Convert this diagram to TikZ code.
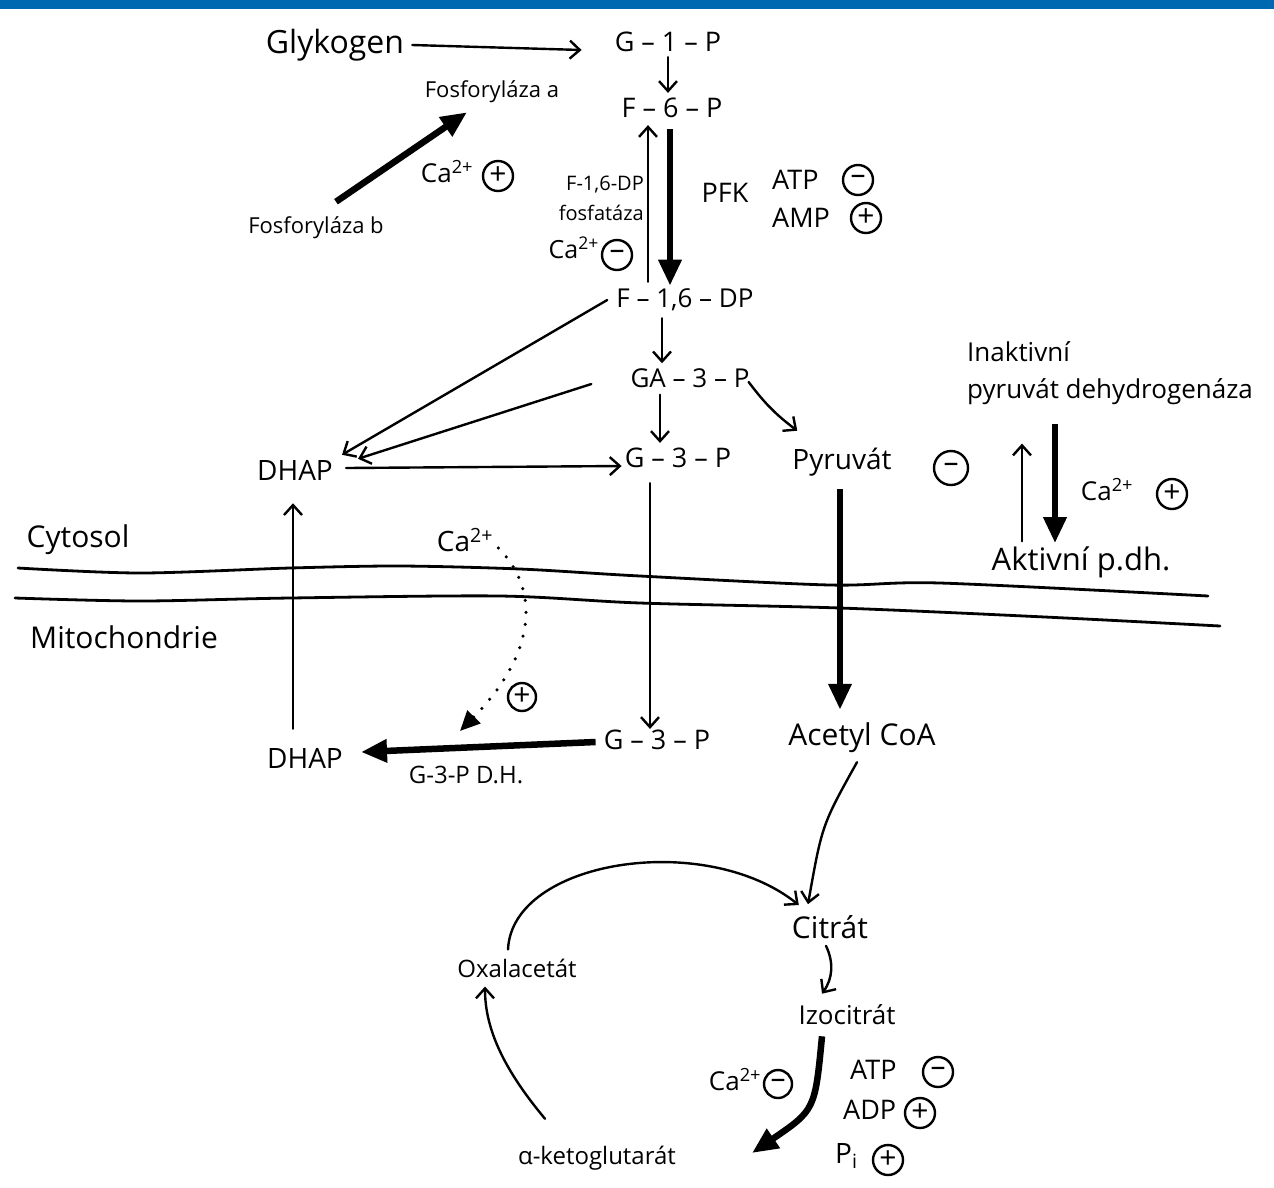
\documentclass[tikz,border=0pt]{standalone}
\usepackage{fontspec}
\setmainfont{Open Sans}
\usetikzlibrary{arrows.meta,calc}
\definecolor{barblue}{HTML}{0068B0}

\begin{document}
\begin{tikzpicture}[x=1pt,y=-1pt,
  lbl/.style={inner sep=1pt, font=\fontsize{#1}{#1}\selectfont},
  lbl/.default=28,
  sgn/.style={circle, draw, line width=2.4pt, minimum size=#1, inner sep=0pt,
              font=\fontsize{30}{30}\selectfont},
  sgn/.default=30,
  thinarr/.style={line width=2.4pt, line cap=round,
                  -{Straight Barb[length=10pt,width=18pt,line width=2.4pt]}},
  thickarr/.style={line width=6.5pt,
                   -{Triangle[length=26pt,width=22pt]}},
  dotarr/.style={line width=3.5pt, line cap=round, dash pattern=on 0pt off 12pt,
                 -{Triangle[length=20pt,width=18pt]}},
  membrane/.style={line width=2.8pt, line cap=round}
]
\useasboundingbox (0,0) rectangle (1274,1187);
\fill[barblue] (0,0) rectangle (1274,9);

% --- glycogen and glycolysis ---
\node[lbl=32] (glyk) at (335,45) {Glykogen};
\node[lbl=27] (g1p) at (668,42) {G – 1 – P};
\node[lbl=27] (f6p) at (672,108) {F – 6 – P};
\node[lbl=22] (fosa) at (492,92) {Fosforyláza a};
\node[lbl=22] (fosb) at (316,228) {Fosforyláza b};
\node[lbl=26] (ca1) at (447,172) {Ca\textsuperscript{2+}};
\node[sgn] (s1) at (498,176) {+};

\node[lbl=20, anchor=east] (fdp1) at (645,185) {F-1,6-DP};
\node[lbl=20, anchor=east] (fdp2) at (645,213) {fosfatáza};
\node[lbl=25, anchor=east] (ca2) at (600,248) {Ca\textsuperscript{2+}};
\node[sgn] (s2) at (617,255) {–};

\node[lbl=27] (pfk) at (725,193) {PFK};
\node[lbl=27, anchor=west] (atp1) at (771,180) {ATP};
\node[sgn] (s3) at (858,180) {–};
\node[lbl=27, anchor=west] (amp) at (771,218) {AMP};
\node[sgn] (s4) at (866,218) {+};

\node[lbl=26] (f16) at (685,300) {F – 1,6 – DP};
\node[lbl=26] (ga3p) at (690,378) {GA – 3 – P};
\node[lbl=27] (g3pc) at (678,458) {G – 3 – P};
\node[lbl=28] (dhapc) at (295,470) {DHAP};
\node[lbl=28] (pyr) at (842,462) {Pyruvát};
\node[sgn=34] (s5) at (951,468) {–};

\node[lbl=26, anchor=north west, align=left, font=\fontsize{26}{37}\selectfont]
  (pdhi) at (966,340) {Inaktivní\\pyruvát dehydrogenáza};
\node[lbl=26] (ca3) at (1107,490) {Ca\textsuperscript{2+}};
\node[sgn] (s6) at (1172,494) {+};
\node[lbl=31] (pdha) at (1081,562) {Aktivní p.dh.};

% --- membrane ---
\node[lbl=30] (cyt) at (78,540) {Cytosol};
\node[lbl=30] (mit) at (124,637) {Mitochondrie};
\draw[membrane] plot[smooth] coordinates {(18,568) (140,573) (290,568) (400,566)
  (520,569) (640,576) (830,585) (940,583) (1208,596)};
\draw[membrane] plot[smooth] coordinates {(15,598) (140,601) (290,598) (500,596)
  (640,603) (840,608) (1045,617) (1220,626)};

% --- mitochondrial matrix ---
\node[lbl=28] (caM) at (465,540) {Ca\textsuperscript{2+}};
\node[sgn=28] (s7) at (522,697) {+};
\node[lbl=28] (dhapm) at (305,758) {DHAP};
\node[lbl=27] (g3pm) at (657,740) {G – 3 – P};
\node[lbl=24] (gdh) at (466,775) {G-3-P D.H.};
\node[lbl=30] (acoa) at (862,738) {Acetyl CoA};
\node[lbl=30] (cit) at (830,927) {Citrát};
\node[lbl=26] (izo) at (847,1015) {Izocitrát};
\node[lbl=24] (oxa) at (517,968) {Oxalacetát};
\node[lbl=24] (akg) at (597,1158) {α-ketoglutarát};
\node[lbl=26] (ca4) at (735,1080) {Ca\textsuperscript{2+}};
\node[sgn=28] (s8) at (778,1084) {–};
\node[lbl=27, anchor=west] (atp2) at (849,1070) {ATP};
\node[sgn] (s9) at (938,1072) {–};
\node[lbl=27, anchor=west] (adp) at (842,1110) {ADP};
\node[sgn] (s10) at (920,1113) {+};
\node[lbl=28, anchor=west] (pi) at (834,1156) {P\textsubscript{i}};
\node[sgn] (s11) at (888,1160) {+};

\coordinate (caTip) at (460,731);
\coordinate (kgTip) at (752,1153);

% --- connectors ---
\draw[thinarr] ($(glyk.east)+(7,0)$) -- ($(g1p.west)+(-32,8)$);
\draw[thinarr] ($(g1p.south)+(0,4)$) -- ($(g1p.south |- f6p.north)+(0,-4)$);
\draw[thickarr] ($(fosb.north)+(20,-14)$) -- ($(fosa.south)+(-25,8)$);

\draw[thinarr] ($(f6p.south |- f16.north)+(-24,-6)$) -- ($(f6p.south)+(-24,6)$);
\draw[thickarr] ($(f6p.south)+(-2,10)$) -- ($(f6p.south |- f16.north)+(-2,-2)$);

\draw[thinarr] ($(f16.south)+(-23,6)$) -- ($(f16.south |- ga3p.north)+(-23,-4)$);
\draw[thinarr] ($(ga3p.south)+(-30,6)$) -- ($(ga3p.south |- g3pc.north)+(-30,-4)$);
\draw[thinarr] ($(f16.west)+(-8,0)$) -- ($(dhapc.north east)+(8,-4)$);
\draw[thinarr] ($(ga3p.west)+(-38,6)$) -- ($(dhapc.north east)+(24,0)$);
\draw[thinarr] ($(dhapc.east)+(12,-2)$) -- ($(g3pc.west)+(-2,8)$);
\draw[thinarr] ($(ga3p.east)+(-2,4)$) to[bend right=8] ($(pyr.north west)+(6,-16)$);

\draw[thickarr] ($(pdhi.south west)+(89,18)$) -- ($(pdhi.south west |- pdha.north)+(89,-2)$);
\draw[thinarr] ($(pdhi.south west |- pdha.north)+(56,-4)$) -- ($(pdhi.south west)+(56,38)$);

\draw[thinarr] ($(dhapm.north)+(-12,-18)$) -- ($(dhapm.north |- dhapc.south)+(-12,22)$);
\draw[thinarr] ($(g3pc.south)+(-28,14)$) -- ($(g3pc.south |- g3pm.north)+(-28,0)$);
\draw[thickarr] ($(g3pm.west)+(-7,2)$) -- ($(dhapm.east)+(17,-6)$);
\draw[dotarr] ($(caM.east)+(4,8)$) .. controls (545,595) and (530,660) .. (caTip);

\draw[thickarr] ($(pyr.south)+(-2,12)$) -- ($(pyr.south |- acoa.north)+(-2,-12)$);
\draw[thinarr] ($(acoa.south)+(-5,8)$) .. controls (822,825) .. ($(cit.north)+(-22,-10)$);
\draw[thinarr] ($(cit.south)+(-4,6)$) to[bend left=30] ($(izo.north)+(-25,-10)$);
\draw[thickarr] ($(izo.south)+(-25,10)$) .. controls (815,1110) .. (kgTip);
\draw[thinarr] ($(akg.north)+(-52,-26)$) .. controls (500,1065) and (485,1025) .. ($(oxa.south)+(-32,8)$);
\draw[thinarr] ($(oxa.north)+(-9,-8)$) .. controls (512,860) and (705,830) .. ($(cit.west)+(8,-22)$);
\end{tikzpicture}
\end{document}
